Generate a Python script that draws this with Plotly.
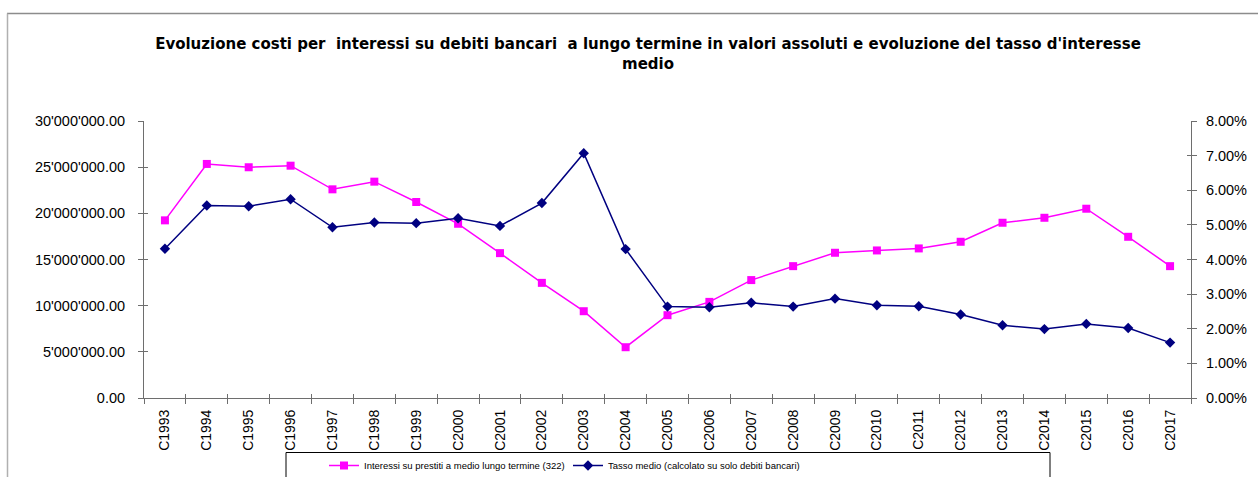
import plotly.graph_objects as go

years = [f"C{y}" for y in range(1993, 2018)]

interessi = [19.24e6, 25.35e6, 24.99e6, 25.16e6, 22.6e6, 23.43e6, 21.23e6, 18.87e6,
             15.69e6, 12.47e6, 9.40e6, 5.50e6, 8.97e6, 10.41e6, 12.77e6, 14.28e6,
             15.73e6, 15.98e6, 16.20e6, 16.92e6, 18.98e6, 19.52e6, 20.50e6, 17.46e6,
             14.28e6]

tasso = [4.31, 5.56, 5.54, 5.74, 4.93, 5.07, 5.05, 5.19, 4.97, 5.63, 7.07, 4.30,
         2.64, 2.62, 2.75, 2.64, 2.87, 2.68, 2.65, 2.41, 2.10, 1.99, 2.14, 2.02, 1.60]

left_tickvals = [0, 5e6, 10e6, 15e6, 20e6, 25e6, 30e6]
left_ticktext = ["0.00", "5'000'000.00", "10'000'000.00", "15'000'000.00",
                 "20'000'000.00", "25'000'000.00", "30'000'000.00"]
right_tickvals = [0, 1, 2, 3, 4, 5, 6, 7, 8]
right_ticktext = ["0.00%", "1.00%", "2.00%", "3.00%", "4.00%", "5.00%",
                  "6.00%", "7.00%", "8.00%"]

title_text = ("Evoluzione costi per  interessi su debiti bancari  a lungo termine in valori "
              "assoluti e evoluzione del tasso d'interesse<br>medio")
name1 = "Interessi su prestiti a medio lungo termine (322)"
name2 = "Tasso medio (calcolato su solo debiti bancari)"

W, H = 1258, 477
ML, MR, MT, MB = 144, 67, 121, 79
PW, PH = W - ML - MR, H - MT - MB

def px_x(p):
    return (p - ML) / PW

def px_y(p):
    return (H - MB - p) / PH

AXC = "#6e6e6e"
FONT = "Liberation Sans, Arial, sans-serif"
N = len(years)

fig = go.Figure()
fig.add_trace(go.Scatter(
    x=years, y=interessi, name=name1, mode="lines+markers",
    line=dict(color="#FF00FF", width=1.5),
    marker=dict(symbol="square", size=8, color="#FF00FF"),
    yaxis="y"))
fig.add_trace(go.Scatter(
    x=years, y=tasso, name=name2, mode="lines+markers",
    line=dict(color="#000080", width=1.5),
    marker=dict(symbol="diamond", size=8, color="#000080"),
    yaxis="y2"))

fig.update_layout(
    width=W, height=H,
    margin=dict(l=ML, r=MR, t=MT, b=MB, autoexpand=False),
    paper_bgcolor="white", plot_bgcolor="white",
    font=dict(family=FONT, color="black", size=14),
    title=dict(text=title_text, xref="container", x=648 / W, xanchor="center",
               yref="container", y=1 - 49 / H, yanchor="top",
               font=dict(family="DejaVu Sans, " + FONT, size=15, color="black",
                         weight="bold")),
    showlegend=True,
    legend=dict(orientation="h", x=px_x(324), xanchor="left",
                y=px_y(451), yanchor="top",
                entrywidth=199, entrywidthmode="pixels",
                bgcolor="rgba(0,0,0,0)", borderwidth=0,
                font=dict(family=FONT, size=9.5),
                itemwidth=30),
    xaxis=dict(type="category", range=[-0.5, N - 0.5], tickson="boundaries",
               ticks="outside", ticklen=5,
               tickcolor=AXC, showline=True, linecolor=AXC, linewidth=1,
               tickangle=-90, showgrid=False, zeroline=False,
               tickfont=dict(size=14), ticklabelstandoff=5),
    xaxis2=dict(overlaying="x", anchor="y", side="bottom", range=[-0.5, N - 0.5],
                tick0=-0.5, dtick=1, ticks="inside", ticklen=4, tickcolor=AXC,
                showticklabels=False, showline=False, showgrid=False, zeroline=False),
    yaxis=dict(range=[0, 30e6], tickvals=left_tickvals, ticktext=left_ticktext,
               ticks="outside", ticklen=5, tickcolor=AXC, showline=True,
               linecolor=AXC, linewidth=1, showgrid=False, zeroline=False,
               tickfont=dict(size=14.5), ticklabelstandoff=10),
    yaxis2=dict(range=[0, 8], tickvals=right_tickvals, ticktext=right_ticktext,
                overlaying="y", side="right", anchor="x",
                ticks="outside", ticklen=5, tickcolor=AXC, showline=True,
                linecolor=AXC, linewidth=1, showgrid=False, zeroline=False,
                tickfont=dict(size=14.5), ticklabelstandoff=6),
    yaxis3=dict(overlaying="y", anchor="x", side="left", range=[0, 30e6],
                tick0=0, dtick=5e6, ticks="inside", ticklen=4, tickcolor=AXC,
                showticklabels=False, showline=False, showgrid=False, zeroline=False),
    yaxis4=dict(overlaying="y", anchor="x", side="right", range=[0, 8],
                tick0=0, dtick=1, ticks="inside", ticklen=4, tickcolor=AXC,
                showticklabels=False, showline=False, showgrid=False, zeroline=False),
    shapes=[
        # outer chart frame (top and left edges visible)
        dict(type="line", xref="paper", yref="paper",
             x0=px_x(7), x1=px_x(W + 5), y0=px_y(13.5), y1=px_y(13.5),
             line=dict(color="#8c8c8c", width=1.5)),
        dict(type="line", xref="paper", yref="paper",
             x0=px_x(7.5), x1=px_x(7.5), y0=px_y(13.5), y1=px_y(H + 5),
             line=dict(color="#b0b0b0", width=1.5)),
        # legend box
        dict(type="rect", xref="paper", yref="paper",
             x0=px_x(286), x1=px_x(1050), y0=px_y(452.5), y1=px_y(H + 10),
             line=dict(color="black", width=1), fillcolor="rgba(0,0,0,0)"),
    ],
)

# dummy traces to activate overlay tick axes
fig.add_trace(go.Scatter(x=[None], y=[None], xaxis="x2", yaxis="y3",
                         showlegend=False, hoverinfo="skip"))
fig.add_trace(go.Scatter(x=[None], y=[None], xaxis="x2", yaxis="y4",
                         showlegend=False, hoverinfo="skip"))

fig.write_html("out.html",
               config=dict(displayModeBar=False),
               post_script="document.body.style.margin='0px';"
                           "document.body.style.overflow='hidden';")
